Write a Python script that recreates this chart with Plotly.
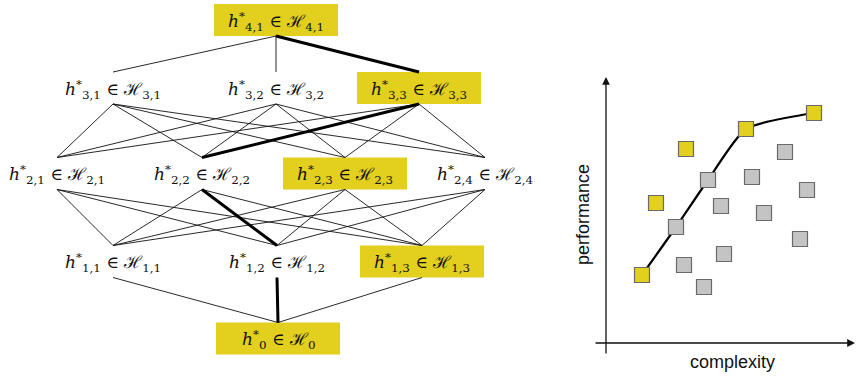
import plotly.graph_objects as go

# ---------------- data: hierarchy diagram ----------------
level_ids = [4, 3, 2, 1, 0]
level_y = {4: 20, 3: 88, 2: 173.5, 1: 261.5, 0: 338.5}          # diagram units (down)
node_x = {4: [276], 3: [113, 276, 419], 2: [57, 202, 345, 485], 1: [113, 277, 422], 0: [278]}
highlight = {4: [0], 3: [2], 2: [2], 1: [2], 0: [0]}
best_path = [(4, 0), (3, 2), (2, 1), (1, 1), (0, 0)]

# ---------------- data: performance vs complexity ----------------
yellow_complexity = [1.8, 2.5, 4.0, 7.0, 10.4]
yellow_performance = [3.4, 7.0, 9.7, 10.7, 11.5]
gray_complexity = [3.5, 5.1, 3.9, 4.9, 5.9, 5.75, 7.3, 7.9, 8.95, 10.05, 9.7]
gray_performance = [5.8, 8.15, 3.9, 2.8, 4.45, 6.85, 8.3, 6.5, 9.55, 7.65, 5.2]
frontier = [("y", 0), ("g", 0), ("g", 1), ("y", 3), ("y", 4)]

YELLOW = "#E2CF1E"
HALF_H, HALF_W = 16, 62

fig = go.Figure()


def label(level, i):
    sub = "0" if level == 0 else f"{level},{i + 1}"
    return f"<i>h</i><sup>*</sup><sub>{sub}</sub> ∈ ℋ<sub>{sub}</sub>"


# edges
thin_x, thin_y, thick_x, thick_y = [], [], [], []
path_set = set(zip(best_path[:-1], best_path[1:]))
for upper, lower in zip(level_ids[:-1], level_ids[1:]):
    for iu, xu in enumerate(node_x[upper]):
        for il, xl in enumerate(node_x[lower]):
            seg_x = [xu, xl, None]
            seg_y = [level_y[upper] + HALF_H, level_y[lower] - HALF_H, None]
            if ((upper, iu), (lower, il)) in path_set:
                thick_x += seg_x
                thick_y += seg_y
            else:
                thin_x += seg_x
                thin_y += seg_y

# boxes
for lv in level_ids:
    for i in highlight[lv]:
        x = node_x[lv][i]
        y = level_y[lv]
        fig.add_shape(type="rect", xref="x", yref="y",
                      x0=x - HALF_W, x1=x + HALF_W, y0=y - HALF_H, y1=y + HALF_H,
                      fillcolor=YELLOW, line=dict(width=0), layer="below")

fig.add_trace(go.Scatter(x=thin_x, y=thin_y, mode="lines",
                         line=dict(color="#111", width=0.9), hoverinfo="skip",
                         showlegend=False, xaxis="x", yaxis="y"))
fig.add_trace(go.Scatter(x=thick_x, y=thick_y, mode="lines",
                         line=dict(color="#000", width=3), hoverinfo="skip",
                         showlegend=False, xaxis="x", yaxis="y"))

for lv in level_ids:
    for i, x in enumerate(node_x[lv]):
        fig.add_annotation(x=x, y=level_y[lv] + 1, xref="x", yref="y",
                           text=label(lv, i), showarrow=False,
                           font=dict(family="DejaVu Serif", size=17, color="#111"),
                           xanchor="center", yanchor="middle")

# right chart
def pt(kind, i):
    if kind == "y":
        return yellow_complexity[i], yellow_performance[i]
    return gray_complexity[i], gray_performance[i]

fx = [pt(k, i)[0] for k, i in frontier]
fy = [pt(k, i)[1] for k, i in frontier]
fig.add_trace(go.Scatter(x=fx, y=fy, mode="lines",
                         line=dict(color="#000", width=2.2, shape="spline", smoothing=0.6),
                         showlegend=False, xaxis="x2", yaxis="y2", hoverinfo="skip"))
fig.add_trace(go.Scatter(x=gray_complexity, y=gray_performance, mode="markers",
                         marker=dict(symbol="square", size=15, color="#C4C4C4",
                                     line=dict(color="#6a6a6a", width=1.2)),
                         showlegend=False, xaxis="x2", yaxis="y2"))
fig.add_trace(go.Scatter(x=yellow_complexity, y=yellow_performance, mode="markers",
                         marker=dict(symbol="square", size=15, color=YELLOW,
                                     line=dict(color="#6a6a6a", width=1.2)),
                         showlegend=False, xaxis="x2", yaxis="y2"))

# axes arrows
fig.add_annotation(x=0, y=13.3, ax=0, ay=-0.6, xref="x2", yref="y2", axref="x2", ayref="y2",
                   showarrow=True, arrowhead=2, arrowsize=1.2, arrowwidth=1.3, arrowcolor="#111", text="")
fig.add_annotation(x=12.45, y=0, ax=-0.6, ay=0, xref="x2", yref="y2", axref="x2", ayref="y2",
                   showarrow=True, arrowhead=2, arrowsize=1.2, arrowwidth=1.3, arrowcolor="#111", text="")
fig.add_annotation(x=-1.15, y=6.4, xref="x2", yref="y2", text="performance", textangle=-90,
                   showarrow=False, font=dict(family="Liberation Sans", size=18, color="#111"))
fig.add_annotation(x=6.3, y=-0.95, xref="x2", yref="y2", text="complexity",
                   showarrow=False, font=dict(family="Liberation Sans", size=18, color="#111"))

W, H = 856, 379
fig.update_layout(
    width=W, height=H, margin=dict(l=0, r=0, t=0, b=0),
    paper_bgcolor="white", plot_bgcolor="rgba(0,0,0,0)",
    xaxis=dict(domain=[0, 1], range=[0, W], visible=False, fixedrange=True),
    yaxis=dict(domain=[0, 1], range=[H, 0], visible=False, fixedrange=True),
    xaxis2=dict(domain=[566 / W, 1], range=[-2.0, 12.5], visible=False, anchor="y2"),
    yaxis2=dict(domain=[(H - 370) / H, (H - 60) / H], range=[-1.35, 14.15], visible=False, anchor="x2"),
)

fig.write_html("out.html", config={"displayModeBar": False, "staticPlot": True},
               post_script="document.body.style.margin='0px';")
